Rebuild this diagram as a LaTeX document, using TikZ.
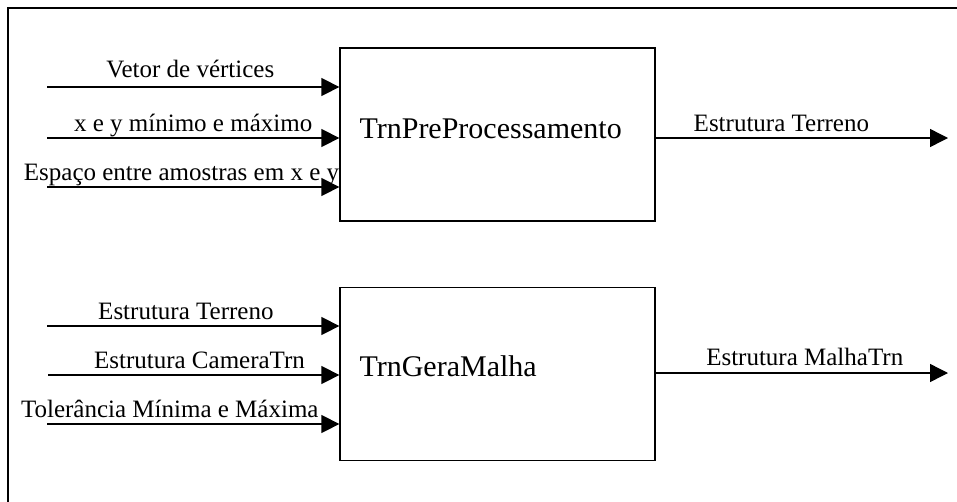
\documentclass[tikz,border=0pt]{standalone}
\usepackage{fontspec}
\setmainfont{Liberation Serif}
\usetikzlibrary{arrows.meta}

\begin{document}
\begin{tikzpicture}[x=1pt,y=-1pt]
	\useasboundingbox (0,0) rectangle (957,501);
	\draw[line width=2.3pt] (8,530) -- (8,8) -- (990,8);

	\begin{scope}[every node/.style={draw,line width=1.3pt,minimum width=315pt,minimum height=173pt,inner sep=0pt}]
		\node (pre) at (497.5,134.5) {};
		\node (gera) at (497.5,374) {};
	\end{scope}

	\begin{scope}[every node/.style={anchor=base west,inner sep=0pt,font=\fontsize{30}{36}\selectfont}]
		\node (pretxt) at ([xshift=20pt,yshift=-3.5pt]pre.west) {TrnPreProcessamento};
		\node (geratxt) at ([xshift=20pt,yshift=-2pt]gera.west) {TrnGeraMalha};
	\end{scope}

	\coordinate (a1) at (47,87);
	\coordinate (a2) at (47,138);
	\coordinate (a3) at (47,187);
	\coordinate (b1) at (47,326);
	\coordinate (b2) at (48,375);
	\coordinate (b3) at (47,424);
	\coordinate (o1) at (948,138);
	\coordinate (o2) at (948,373);

	\begin{scope}[>={Triangle[length=18pt,width=18pt]},
		every node/.style={anchor=base,inner sep=0pt,yshift=6.5pt,font=\fontsize{25}{30}\selectfont},
		every edge/.style={draw=black,line width=1.4pt,->}]
		\path (a1) edge node[pos=0.49,yshift=3pt] {Vetor de vértices} (a1 -| pre.west);
		\path (a2) edge node {x e y mínimo e máximo} (a2 -| pre.west);
		\path (a3) edge node[pos=0.46] {Espaço entre amostras em x e y} (a3 -| pre.west);

		\path (pre.east |- o1) edge node[pos=0.43] {Estrutura Terreno} (o1);

		\path (b1) edge node[pos=0.475] {Estrutura Terreno} (b1 -| gera.west);
		\path (b2) edge node[pos=0.52] {Estrutura CameraTrn} (b2 -| gera.west);
		\path (b3) edge node[pos=0.42] {Tolerância Mínima e Máxima} (b3 -| gera.west);

		\path (gera.east |- o2) edge node[pos=0.51,yshift=1.5pt] {Estrutura MalhaTrn} (o2);
	\end{scope}
\end{tikzpicture}
\end{document}
